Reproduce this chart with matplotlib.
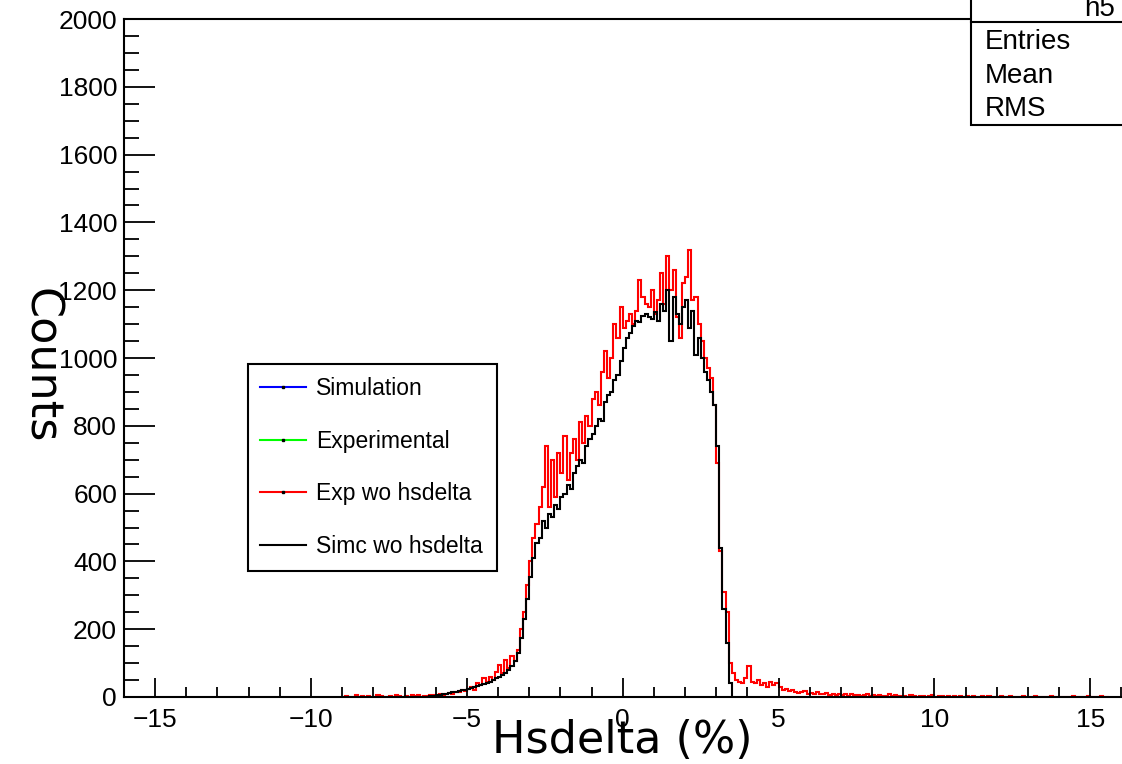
import numpy as np
import matplotlib.pyplot as plt
from matplotlib.lines import Line2D
from matplotlib.patches import Rectangle
from matplotlib.ticker import MultipleLocator

plt.rcParams['font.family'] = ['Liberation Sans', 'DejaVu Sans']

# simc without hsdelta cut, bins of 0.1 % from -6.2 to 3.5
simc_edges = np.round(np.arange(-6.2, 3.55, 0.1), 2)
simc_counts = [
    2, 3, 5, 6, 8, 10, 12, 14, 16, 18,
    20, 22, 25, 27, 30, 33, 35, 38, 42, 45,
    50, 55, 60, 66, 72, 80, 90, 105, 130, 175,
    230, 290, 355, 410, 455, 470, 520, 500, 540, 530,
    565, 555, 590, 600, 625, 615, 660, 680, 700, 690,
    740, 760, 775, 800, 820, 815, 870, 890, 900, 935,
    950, 990, 1030, 1060, 1075, 1095, 1110, 1105, 1125, 1130,
    1120, 1115, 1135, 1110, 1160, 1140, 1200, 1050, 1180, 1130,
    1100, 1150, 1170, 1090, 1140, 1010, 1060, 1000, 960, 935,
    900, 860, 740, 440, 260, 160, 40,
]

# experimental data without hsdelta cut, bins of 0.1 % from -9.0 to 15.6
exp_edges = np.round(np.arange(-9.0, 15.65, 0.1), 2)
exp_counts = [
    0, 3, 0, 0, 5, 0, 2, 0, 4, 0,
    0, 6, 3, 0, 0, 4, 0, 5, 2, 0,
    3, 0, 5, 2, 6, 0, 4, 3, 7, 5,
    6, 8, 5, 10, 12, 9, 15, 14, 20, 18,
    25, 30, 22, 40, 35, 55, 45, 60, 50, 75,
    95, 70, 110, 85, 120, 105, 140, 200, 250, 330,
    400, 470, 510, 560, 620, 740, 560, 700, 590, 720,
    660, 770, 640, 720, 760, 700, 810, 750, 830, 800,
    880, 900, 860, 960, 1020, 940, 1000, 1100, 1060, 1150,
    1090, 1110, 1130, 1100, 1140, 1230, 1180, 1160, 1150, 1200,
    1130, 1170, 1250, 1160, 1300, 1200, 1260, 1120, 1060, 1220,
    1240, 1320, 1170, 1180, 1100, 1050, 1000, 970, 940, 860,
    690, 430, 310, 250, 100, 70, 50, 45, 40, 55,
    90, 45, 40, 50, 35, 40, 30, 45, 35, 40,
    30, 22, 25, 18, 20, 15, 12, 15, 18, 10,
    12, 8, 15, 10, 8, 12, 6, 10, 5, 8,
    6, 8, 4, 10, 5, 7, 3, 6, 8, 4,
    5, 3, 6, 2, 4, 8, 3, 5, 2, 4,
    3, 0, 5, 2, 0, 4, 3, 0, 2, 5,
    0, 3, 2, 0, 4, 0, 2, 0, 3, 0,
    2, 0, 3, 0, 0, 2, 0, 4, 0, 0,
    0, 3, 0, 0, 2, 0, 0, 0, 3, 0,
    0, 0, 2, 0, 0, 0, 0, 3, 0, 0,
    0, 0, 0, 0, 2, 0, 0, 0, 0, 3,
    0, 0, 0, 4, 0, 0,
]

legend_labels = ['Simulation', 'Experimental', 'Exp wo hsdelta', 'Simc wo hsdelta']
legend_colors = ['#0000ff', '#00ff00', '#ff0000', '#000000']
stats_labels = ['Entries', 'Mean', 'RMS']

fig = plt.figure(figsize=(11.22, 7.64), dpi=100)
ax = fig.add_axes([0.1105, 0.0877, 0.889, 0.8874])

ax.stairs(exp_counts, exp_edges, color='#ff0000', lw=1.5)
ax.stairs(simc_counts, simc_edges, color='black', lw=1.5)

ax.set_xlim(-16, 16)
ax.set_ylim(0, 2000)
ax.xaxis.set_major_locator(MultipleLocator(5))
ax.xaxis.set_minor_locator(MultipleLocator(1))
ax.yaxis.set_major_locator(MultipleLocator(200))
ax.yaxis.set_minor_locator(MultipleLocator(50))
ax.tick_params(axis='both', which='both', direction='in', width=1.3, labelsize=19)
ax.tick_params(axis='x', which='major', length=14, pad=8)
ax.tick_params(axis='x', which='minor', length=7)
ax.tick_params(axis='y', which='major', length=22, pad=5)
ax.tick_params(axis='y', which='minor', length=11)
ax.tick_params(top=False, right=False)
ax.spines['right'].set_visible(False)
for s in ['left', 'bottom', 'top']:
    ax.spines[s].set_linewidth(1.5)

fig.text(0.555, 0.031, 'Hsdelta (%)', fontsize=32, ha='center', va='center',
         family=['DejaVu Sans Condensed', 'DejaVu Sans'], zorder=6)
fig.text(0.036, 0.522, 'Counts', fontsize=32, rotation=-90, ha='center', va='center',
         family=['DejaVu Sans Condensed', 'DejaVu Sans'], zorder=6)

handles = [Line2D([], [], color=c, lw=1.5, marker='s', markersize=1.5,
                  markerfacecolor='black', markeredgecolor='black')
           for c in legend_colors]
handles[-1] = Line2D([], [], color='black', lw=1.5)
leg = ax.legend(handles, legend_labels, loc='lower left',
                bbox_to_anchor=(0.124, 0.186, 0.25, 0.311), mode='expand',
                borderaxespad=0, fontsize=16.5, labelspacing=1.3, handlelength=2.0,
                handletextpad=0.45, borderpad=0.55, fancybox=False, framealpha=1)
leg.get_frame().set_edgecolor('black')
leg.get_frame().set_linewidth(1.5)

# stats box in the top right corner
fig.patches.append(Rectangle((0.8654, 0.8364), 0.2, 0.2, transform=fig.transFigure,
                             facecolor='white', edgecolor='black', lw=1.5, zorder=5))
fig.add_artist(Line2D([0.8654, 1.0], [0.9712, 0.9712], transform=fig.transFigure,
                      color='black', lw=1.5, zorder=6))
fig.text(0.994, 0.988, 'h5', fontsize=20, ha='right', va='center', zorder=6)
for i, lab in enumerate(stats_labels):
    fig.text(0.878, 0.945 - i * 0.044, lab, fontsize=20, ha='left', va='center', zorder=6)

fig.savefig('out.png', dpi=100)
